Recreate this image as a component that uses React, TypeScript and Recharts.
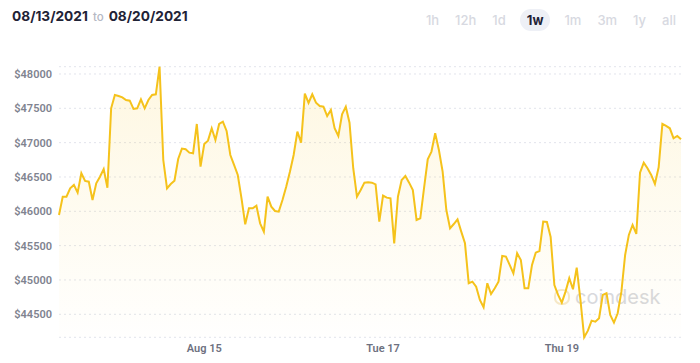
import React from "react";
import { AreaChart, Area, XAxis, YAxis, CartesianGrid } from "recharts";

// hourly BTC price, 08/13/2021 ~09:00 -> 08/20/2021 ~08:00
const prices: number[] = [
    45947, 46213, 46213, 46335, 46384, 46272, 46554, 46442, 46431, 46165,
    46408, 46504, 46616, 46344, 47500, 47694, 47680, 47660, 47621, 47611,
    47490, 47500, 47631, 47500, 47621, 47694, 47704, 48106, 46747, 46335,
    46398, 46446, 46762, 46913, 46903, 46854, 46845, 47272, 46650, 46980,
    47029, 47209, 47039, 47272, 47306, 47170, 46820, 46675, 46529, 46189,
    45810, 46044, 46044, 46082, 45825, 45704, 46213, 46068, 46005, 45995,
    46165, 46359, 46577, 46820, 47160, 47000, 47714, 47578, 47704, 47582,
    47534, 47524, 47388, 47476, 47209, 47097, 47413, 47524, 47291, 46627,
    46213, 46310, 46417, 46423, 46417, 46393, 45850, 46228, 46199, 46189,
    45534, 46213, 46456, 46514, 46417, 46310, 45874, 45898, 46335, 46757,
    46870, 47136, 46893, 46577, 46019, 45752, 45815, 45883, 45704, 45534,
    44952, 44976, 44903, 44709, 44602, 44952, 44796, 44879, 44976, 45350,
    45340, 45219, 45097, 45389, 45291, 44879, 44879, 45219, 45398, 45422,
    45850, 45845, 45626, 44927, 44782, 44670, 44830, 45025, 44864, 45180,
    44709, 44165, 44262, 44408, 44393, 44442, 44782, 44806, 44490, 44379,
    44515, 44830, 45364, 45656, 45801, 45670, 46563, 46709, 46627, 46529,
    46398, 46641, 47272, 47243, 47209, 47063, 47097, 47049,
];

const yTicks = [44500, 45000, 45500, 46000, 46500, 47000, 47500, 48000];
const xTicks = [39, 87, 135];
const xLabels = ["Aug 15", "Tue 17", "Thu 19"];
const ranges = ["1h", "12h", "1d", "1w", "1m", "3m", "1y", "all"];
const activeRange = "1w";

const data = prices.map((price, i) => ({ t: i, price }));

const font = "Inter, 'Noto Sans', sans-serif";
const axisFont = "Roboto, 'Noto Sans', sans-serif";

const App: React.FC = () => {
    return (
        <div style={{ position: "absolute", left: 0, top: 0, width: 700, height: 363, background: "#fff", fontFamily: font }}>
            {/* Header */}
            <div style={{ position: "absolute", left: 12, top: 8, display: "flex", alignItems: "baseline", fontSize: 13.7, fontWeight: 700, color: "#1f2336", whiteSpace: "nowrap" }}>
                <span>08/13/2021</span>
                <span style={{ color: "#b5b8c4", fontWeight: 500, fontSize: 11.5, margin: "0 5px" }}>to</span>
                <span>08/20/2021</span>
            </div>
            <div style={{ position: "absolute", right: 16, top: 9, display: "flex", alignItems: "center" }}>
                {ranges.map((r) => {
                    const active = r === activeRange;
                    return (
                        <span
                            key={r}
                            style={{
                                fontSize: 13,
                                fontWeight: active ? 700 : 500,
                                color: active ? "#1f2336" : "#d7d9e1",
                                background: active ? "#eef0f6" : "transparent",
                                borderRadius: 11,
                                padding: active ? "3px 7px" : "3px 8px",
                                margin: active ? "0 6px" : 0,
                            }}
                        >
                            {r}
                        </span>
                    );
                })}
            </div>

            {/* Watermark */}
            <div style={{ position: "absolute", left: 554, top: 287, display: "flex", alignItems: "center", color: "#d2d3d8", fontSize: 20, lineHeight: "20px", opacity: 0.85 }}>
                <span style={{ width: 12, height: 12, borderRadius: 7, border: "2.5px solid #f5e6c2", marginRight: 5, display: "inline-block" }}></span>
                coindesk
            </div>

            <AreaChart
                width={700}
                height={363}
                data={data}
                margin={{ top: 66.7, right: 19, bottom: 3.7, left: 0 }}
                style={{ position: "absolute", left: 0, top: 0 }}
            >
                <defs>
                    <linearGradient id="priceFill" x1="0" y1="0" x2="0" y2="1">
                        <stop offset="0%" stopColor="#f8c41c" stopOpacity={0.22} />
                        <stop offset="100%" stopColor="#f8c41c" stopOpacity={0.01} />
                    </linearGradient>
                </defs>
                <CartesianGrid vertical={false} stroke="#e2e4ec" strokeDasharray="2 3" />
                <XAxis
                    dataKey="t"
                    type="number"
                    domain={[0, prices.length - 1]}
                    ticks={xTicks}
                    tickFormatter={(v: number) => xLabels[xTicks.indexOf(v)]}
                    axisLine={false}
                    tickLine={false}
                    tickSize={0}
                    tickMargin={7}
                    height={22}
                    tick={{ fill: "#6e7180", fontSize: 11, fontWeight: 600, fontFamily: axisFont }}
                />
                <YAxis
                    domain={["dataMin", "dataMax"]}
                    ticks={yTicks}
                    tickFormatter={(v: number) => `$${v}`}
                    axisLine={false}
                    tickLine={false}
                    tickSize={0}
                    tickMargin={7}
                    width={59}
                    tick={{ fill: "#80838f", fontSize: 11, fontWeight: 600, fontFamily: axisFont }}
                />
                <Area
                    type="linear"
                    dataKey="price"
                    stroke="#f5c21b"
                    strokeWidth={2}
                    fill="url(#priceFill)"
                    dot={false}
                    activeDot={false}
                    isAnimationActive={false}
                />
            </AreaChart>
        </div>
    );
};

export default App;
